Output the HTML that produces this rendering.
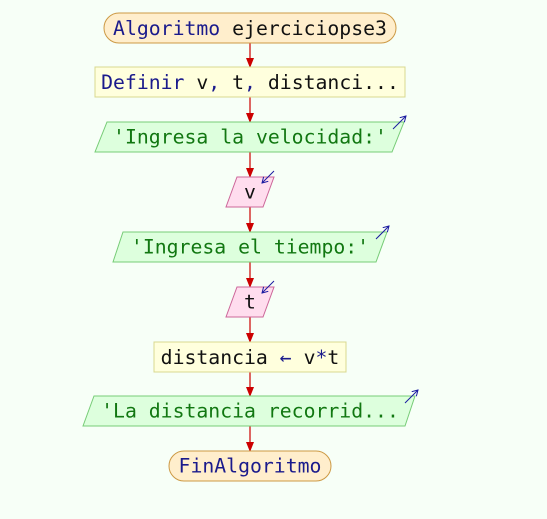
<!DOCTYPE html>
<html><head><meta charset="utf-8"><style>
html,body{margin:0;padding:0;background:#f7fff7;}
svg{display:block}
text{font-family:"DejaVu Sans Mono","Liberation Mono",monospace;font-size:19.8px;dominant-baseline:central;text-anchor:middle}
</style></head><body>
<svg width="547" height="519" viewBox="0 0 547 519">
<rect width="547" height="519" fill="#f7fff7"/>
<defs>
<marker id="ah" markerWidth="10" markerHeight="8" refX="9" refY="4" orient="auto" markerUnits="userSpaceOnUse">
<path d="M0,0 L10,4 L0,8 Z" fill="#cc0000"/></marker>
<marker id="bh" markerWidth="7" markerHeight="7" refX="6" refY="3.5" orient="auto" markerUnits="userSpaceOnUse">
<path d="M0,0 L6,3.5 L0,7" fill="none" stroke="#1a1aa0" stroke-width="1"/></marker>
</defs>
<g stroke="#cc0000" stroke-width="1.2" fill="none">
<line x1="250" y1="43" x2="250" y2="67" marker-end="url(#ah)"/>
<line x1="250" y1="97" x2="250" y2="122" marker-end="url(#ah)"/>
<line x1="250" y1="152" x2="250" y2="177" marker-end="url(#ah)"/>
<line x1="250" y1="207" x2="250" y2="232" marker-end="url(#ah)"/>
<line x1="250" y1="262" x2="250" y2="287" marker-end="url(#ah)"/>
<line x1="250" y1="317" x2="250" y2="342" marker-end="url(#ah)"/>
<line x1="250" y1="372" x2="250" y2="396" marker-end="url(#ah)"/>
<line x1="250" y1="426" x2="250" y2="451" marker-end="url(#ah)"/>
</g>
<rect x="104" y="13" width="292" height="30" rx="15" fill="#ffeecc" stroke="#cc9944"/>
<text x="250" y="28"><tspan fill="#1a1a8c">Algoritmo</tspan><tspan fill="#111"> ejerciciopse3</tspan></text>
<rect x="95" y="67" width="310" height="30" fill="#ffffdd" stroke="#d8d890"/>
<text x="250" y="82"><tspan fill="#1a1a8c">Definir</tspan><tspan fill="#111"> v</tspan><tspan fill="#1a1a8c">,</tspan><tspan fill="#111"> t</tspan><tspan fill="#1a1a8c">,</tspan><tspan fill="#111"> distanci...</tspan></text>
<polygon points="107,122 404,122 392,152 95,152" fill="#ddffdd" stroke="#77cc77"/>
<text x="250" y="137" fill="#117711">'Ingresa la velocidad:'</text>
<line x1="393" y1="129" x2="406" y2="116" stroke="#1a1aa0" marker-end="url(#bh)"/>
<polygon points="237,177 274,177 263,207 226,207" fill="#ffddee" stroke="#cc6699"/>
<text x="250" y="192" fill="#111">v</text>
<line x1="274" y1="171" x2="262" y2="183" stroke="#1a1aa0" marker-end="url(#bh)"/>
<polygon points="123,232 387,232 376,262 113,262" fill="#ddffdd" stroke="#77cc77"/>
<text x="250" y="247" fill="#117711">'Ingresa el tiempo:'</text>
<line x1="376" y1="239" x2="389" y2="226" stroke="#1a1aa0" marker-end="url(#bh)"/>
<polygon points="237,287 274,287 263,317 226,317" fill="#ffddee" stroke="#cc6699"/>
<text x="250" y="302" fill="#111">t</text>
<line x1="274" y1="281" x2="262" y2="293" stroke="#1a1aa0" marker-end="url(#bh)"/>
<rect x="154" y="342" width="192" height="30" fill="#ffffdd" stroke="#d8d890"/>
<text x="250" y="357"><tspan fill="#111">distancia </tspan><tspan fill="#1a1a8c">←</tspan><tspan fill="#111"> v</tspan><tspan fill="#1a1a8c">*</tspan><tspan fill="#111">t</tspan></text>
<polygon points="94,396 415,396 405,426 83,426" fill="#ddffdd" stroke="#77cc77"/>
<text x="250" y="411" fill="#117711">'La distancia recorrid...</text>
<line x1="405" y1="403" x2="418" y2="390" stroke="#1a1aa0" marker-end="url(#bh)"/>
<rect x="169" y="451" width="162" height="30" rx="15" fill="#ffeecc" stroke="#cc9944"/>
<text x="250" y="466" fill="#1a1a8c">FinAlgoritmo</text>
</svg>
</body></html>
